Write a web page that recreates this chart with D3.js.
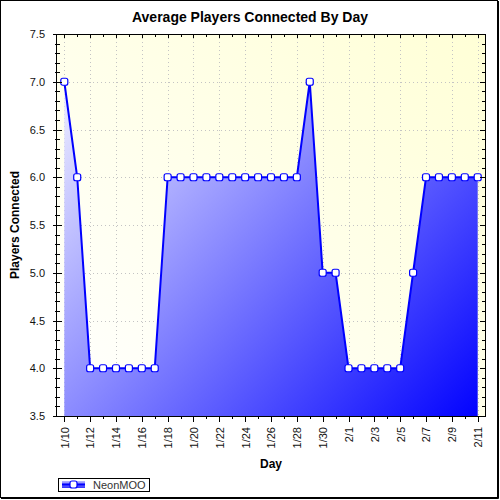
<!DOCTYPE html>
<html>
<head>
<meta charset="utf-8">
<title>Average Players Connected By Day</title>
<script src="https://cdn.jsdelivr.net/npm/d3@7/dist/d3.min.js"></script>
<style>
	html, body { margin: 0; padding: 0; background: #fff; }
	svg { display: block; font-family: "Liberation Sans", Arial, sans-serif; }
</style>
</head>
<body>
<svg id="chart" width="500" height="500"></svg>
<script>
(function(window, d3){
	'use strict';

	// DATA
	var days = ['1/10', '1/11', '1/12', '1/13', '1/14', '1/15', '1/16', '1/17', '1/18', '1/19',
		'1/20', '1/21', '1/22', '1/23', '1/24', '1/25', '1/26', '1/27', '1/28', '1/29',
		'1/30', '1/31', '2/1', '2/2', '2/3', '2/4', '2/5', '2/6', '2/7', '2/8',
		'2/9', '2/10', '2/11'];
	var players = [7, 6, 4, 4, 4, 4, 4, 4, 6, 6,
		6, 6, 6, 6, 6, 6, 6, 6, 6, 7,
		5, 5, 4, 4, 4, 4, 4, 5, 6, 6,
		6, 6, 6];
	var yTicks = [3.5, 4.0, 4.5, 5.0, 5.5, 6.0, 6.5, 7.0, 7.5];
	var xTickLabels = days.filter(function(d, i) { return i % 2 === 0; });
	var seriesName = 'NeonMOO';

	var margin = { top: 34, left: 57, right: 15, bot: 84 };
	var width = 500, height = 500;
	var plotW = width - margin.left - margin.right;
	var plotH = height - margin.top - margin.bot;

	var svg = d3.select('#chart');
	var defs = svg.append('defs');

	var bgGrad = defs.append('linearGradient')
		.attr('id', 'bgGrad')
		.attr('x1', 1).attr('y1', 0).attr('x2', 0).attr('y2', 1);
	bgGrad.append('stop').attr('offset', 0).attr('stop-color', '#ffffd6');
	bgGrad.append('stop').attr('offset', 1).attr('stop-color', '#ffffff');

	var areaGrad = defs.append('linearGradient')
		.attr('id', 'areaGrad')
		.attr('gradientUnits', 'userSpaceOnUse')
		.attr('x1', 0).attr('y1', 0).attr('x2', plotW).attr('y2', plotH);
	areaGrad.append('stop').attr('offset', 0).attr('stop-color', '#ffffff');
	areaGrad.append('stop').attr('offset', 1).attr('stop-color', '#0000ff');

	var legGrad = defs.append('linearGradient')
		.attr('id', 'legGrad')
		.attr('x1', 0).attr('y1', 0).attr('x2', 0).attr('y2', 1);
	legGrad.append('stop').attr('offset', 0).attr('stop-color', '#b8b8ff');
	legGrad.append('stop').attr('offset', 1).attr('stop-color', '#3030ff');

	// outer frame
	svg.append('rect')
		.attr('x', 0.5).attr('y', 0.5).attr('width', 497).attr('height', 497)
		.attr('fill', '#fff').attr('stroke', '#000');
	svg.append('path')
		.attr('d', 'M498.5,1V498.5H1')
		.attr('fill', 'none').attr('stroke', '#000');

	svg.append('text')
		.attr('x', width / 2).attr('y', 22)
		.attr('text-anchor', 'middle')
		.attr('font-size', '14px').attr('font-weight', 'bold')
		.text('Average Players Connected By Day');

	var g = svg.append('g').attr('transform', 'translate(' + margin.left + ',' + margin.top + ')');

	var xScale = d3.scalePoint().domain(days).range([0, plotW]).padding(0.565);
	var yScale = d3.scaleLinear().domain([3.5, 7.5]).range([plotH, 0]);

	g.append('rect')
		.attr('width', plotW).attr('height', plotH)
		.attr('fill', 'url(#bgGrad)');

	// GRID
	var grid = g.append('g')
		.attr('stroke', '#c4c4c4').attr('stroke-dasharray', '1,3').attr('stroke-width', 1);
	grid.selectAll('line.gx').data(xTickLabels).enter().append('line')
		.attr('class', 'gx')
		.attr('x1', function(d) { return Math.round(xScale(d)) + 0.5; })
		.attr('x2', function(d) { return Math.round(xScale(d)) + 0.5; })
		.attr('y1', 0).attr('y2', plotH);
	grid.selectAll('line.gy').data(yTicks.slice(1, -1)).enter().append('line')
		.attr('class', 'gy')
		.attr('y1', function(d) { return Math.round(yScale(d)) + 0.5; })
		.attr('y2', function(d) { return Math.round(yScale(d)) + 0.5; })
		.attr('x1', 0).attr('x2', plotW);

	// AREA + LINE
	var area = d3.area()
		.x(function(d, i) { return xScale(days[i]); })
		.y0(plotH)
		.y1(function(d) { return yScale(d); });
	var line = d3.line()
		.x(function(d, i) { return xScale(days[i]); })
		.y(function(d) { return yScale(d); });

	g.append('path').datum(players)
		.attr('d', area)
		.attr('fill', 'url(#areaGrad)');
	g.append('path').datum(players)
		.attr('d', line)
		.attr('fill', 'none').attr('stroke', '#0000ff').attr('stroke-width', 2);

	g.selectAll('rect.marker').data(players).enter().append('rect')
		.attr('class', 'marker')
		.attr('x', function(d, i) { return xScale(days[i]) - 3.5; })
		.attr('y', function(d) { return yScale(d) - 3.5; })
		.attr('width', 7).attr('height', 7).attr('rx', 2)
		.attr('fill', '#fff').attr('stroke', '#0000ff').attr('stroke-width', 1.2);

	// AXES
	var minorY = d3.range(35, 76).map(function(v) { return v / 10; });

	function tickLines(axisG, data, pos, a, b, horizontal) {
		axisG.selectAll(null).data(data).enter().append('line')
			.attr('x1', function(d) { return horizontal ? Math.round(pos(d)) + 0.5 : a; })
			.attr('x2', function(d) { return horizontal ? Math.round(pos(d)) + 0.5 : b; })
			.attr('y1', function(d) { return horizontal ? a : Math.round(pos(d)) + 0.5; })
			.attr('y2', function(d) { return horizontal ? b : Math.round(pos(d)) + 0.5; });
	}

	var ticks = g.append('g').attr('stroke', '#000').attr('stroke-width', 1);
	// left
	tickLines(ticks, minorY, yScale, -2, 3, false);
	tickLines(ticks, yTicks, yScale, -4, 5, false);
	// right
	tickLines(ticks, minorY, yScale, plotW - 3, plotW, false);
	tickLines(ticks, yTicks, yScale, plotW - 5, plotW, false);
	// bottom
	tickLines(ticks, days, xScale, plotH, plotH + 3, true);
	tickLines(ticks, xTickLabels, xScale, plotH, plotH + 6, true);
	// top
	tickLines(ticks, days, xScale, 0, 3, true);
	tickLines(ticks, xTickLabels, xScale, 0, 4, true);

	g.append('rect')
		.attr('x', -0.5).attr('y', 0.5).attr('width', plotW + 1).attr('height', plotH)
		.attr('fill', 'none').attr('stroke', '#000');

	var yAxis = d3.axisLeft(yScale)
		.tickValues(yTicks)
		.tickFormat(d3.format('.1f'))
		.tickSize(0).tickPadding(12);
	var yAxisG = g.append('g').call(yAxis);
	yAxisG.select('.domain').remove();
	yAxisG.selectAll('text').attr('font-size', '11px').attr('font-family', null).attr('fill', '#111');

	var xAxis = d3.axisBottom(xScale)
		.tickValues(xTickLabels)
		.tickSize(0);
	var xAxisG = g.append('g').attr('transform', 'translate(0,' + plotH + ')').call(xAxis);
	xAxisG.select('.domain').remove();
	xAxisG.selectAll('text')
		.attr('font-size', '11px').attr('font-family', null).attr('fill', '#111')
		.attr('text-anchor', 'end')
		.attr('transform', 'rotate(-90)')
		.attr('x', -11).attr('y', 0).attr('dy', '0.35em');

	g.append('text')
		.attr('x', plotW / 2).attr('y', plotH + 52)
		.attr('text-anchor', 'middle')
		.attr('font-size', '12px').attr('font-weight', 'bold')
		.text('Day');

	svg.append('text')
		.attr('transform', 'translate(19,' + (margin.top + plotH / 2) + ') rotate(-90)')
		.attr('text-anchor', 'middle')
		.attr('font-size', '12px').attr('font-weight', 'bold')
		.text('Players Connected');

	// LEGEND
	var legend = svg.append('g').attr('transform', 'translate(58,478)');
	legend.append('rect')
		.attr('x', 0.5).attr('y', 0.5).attr('width', 91).attr('height', 13)
		.attr('fill', '#fff').attr('stroke', '#000');
	legend.append('rect')
		.attr('x', 4).attr('y', 3).attr('width', 23).attr('height', 7)
		.attr('fill', 'url(#legGrad)');
	legend.append('line')
		.attr('x1', 4).attr('x2', 27).attr('y1', 6.5).attr('y2', 6.5)
		.attr('stroke', '#0000ff').attr('stroke-width', 2);
	legend.append('rect')
		.attr('x', 12).attr('y', 3).attr('width', 7).attr('height', 7).attr('rx', 2)
		.attr('fill', '#fff').attr('stroke', '#0000ff').attr('stroke-width', 1.2);
	legend.append('text')
		.attr('x', 35).attr('y', 11)
		.attr('font-size', '11px').attr('fill', '#333')
		.text(seriesName);

})(window, window.d3);
</script>
</body>
</html>
